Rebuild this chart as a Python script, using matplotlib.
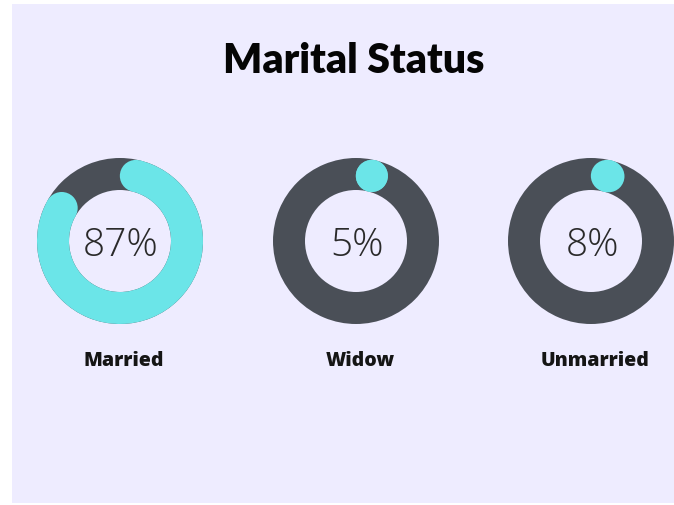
import numpy as np
import matplotlib
matplotlib.use("Agg")
import matplotlib.pyplot as plt
from matplotlib.patches import Wedge, Circle, Rectangle

title = "Marital Status"
categories = ["Married", "Widow", "Unmarried"]
values = [87, 5, 8]

W, H = 674, 506
fig = plt.figure(figsize=(W / 100, H / 100), dpi=100)
fig.patch.set_facecolor("white")
ax = fig.add_axes([0, 0, 1, 1])
ax.set_xlim(0, W)
ax.set_ylim(0, H)
ax.axis("off")

bg = "#EEECFF"
dark = "#4A4F57"
cyan = "#6BE5E8"

ax.add_patch(Rectangle((12, H - 504), W - 12, 499, facecolor=bg, edgecolor="none"))

ax.text(354, H - 73, title, ha="center", va="baseline", fontsize=29.5,
        fontweight="heavy", family=["Lato", "DejaVu Sans"], color="#050505")

cx = [120, 356, 591]
cy = H - 242
R = 83
wid = 32
rmid = R - wid / 2
cap_deg = np.degrees((wid / 2) / rmid)

for i, (cat, v) in enumerate(zip(categories, values)):
    x = cx[i]
    ax.add_patch(Wedge((x, cy), R, 0, 360, width=wid, facecolor=dark, edgecolor="none"))
    a0 = cap_deg
    a1 = max(a0, v / 100 * 360 - cap_deg)
    t0 = 90 - a1
    t1 = 90 - a0
    if a1 > a0:
        ax.add_patch(Wedge((x, cy), R, t0, t1, width=wid, facecolor=cyan, edgecolor="none"))
    for a in (a0, a1):
        th = np.radians(90 - a)
        ax.add_patch(Circle((x + rmid * np.cos(th), cy + rmid * np.sin(th)), wid / 2,
                            facecolor=cyan, edgecolor="none"))
    ax.text(x + 1, H - 256, f"{v}%", ha="center", va="baseline", fontsize=28,
            fontweight="light", family=["Open Sans", "DejaVu Sans"], color="#2a2a2a")
    ax.text(x + 4, H - 366, cat, ha="center", va="baseline", fontsize=14,
            fontweight="heavy", family=["Open Sans", "DejaVu Sans"], color="#151515")

fig.savefig("out.png", dpi=100, facecolor="white")
